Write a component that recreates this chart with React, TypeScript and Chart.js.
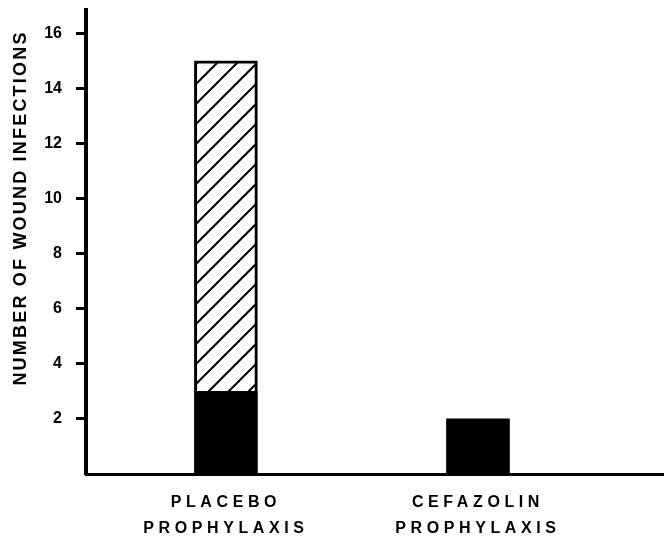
import React, { useEffect, useRef } from "react";
import { Chart, registerables } from "chart.js";

Chart.register(...registerables);

const categories: string[][] = [
  ["PLACEBO", "PROPHYLAXIS"],
  ["CEFAZOLIN", "PROPHYLAXIS"],
];
const blackValues: (number | null)[] = [3, 2];
const hatchedValues: (number | null)[] = [12, null];
const yTickValues: number[] = [2, 4, 6, 8, 10, 12, 14, 16];
const yTitle = "NUMBER OF WOUND INFECTIONS";
const yMax = 16.85;
const xMin = 0.445;
const xMax = 2.738;

const FONT = '"Liberation Sans", Arial, sans-serif';

function makeHatch(): CanvasPattern | string {
  const s = 20;
  const c = document.createElement("canvas");
  c.width = s;
  c.height = s;
  const g = c.getContext("2d");
  if (!g) return "#fff";
  g.fillStyle = "#fff";
  g.fillRect(0, 0, s, s);
  g.strokeStyle = "#000";
  g.lineWidth = 2;
  g.lineCap = "square";
  g.beginPath();
  g.moveTo(0, s);
  g.lineTo(s, 0);
  g.moveTo(-2, 2);
  g.lineTo(2, -2);
  g.moveTo(s - 2, s + 2);
  g.lineTo(s + 2, s - 2);
  g.stroke();
  const p = g.createPattern(c, "repeat");
  return p || "#fff";
}

const spacingPlugin = {
  id: "spacingPlugin",
  beforeDraw(chart: any) {
    chart.ctx.letterSpacing = "0px";
  },
  afterDatasetsDraw(chart: any) {
    chart.ctx.letterSpacing = "4.6px";
  },
  afterDraw(chart: any) {
    const ctx = chart.ctx;
    ctx.save();
    ctx.letterSpacing = "2.2px";
    ctx.font = `bold 18px ${FONT}`;
    ctx.fillStyle = "#000";
    ctx.translate(21, 208);
    ctx.rotate(-Math.PI / 2);
    ctx.textAlign = "center";
    ctx.textBaseline = "middle";
    ctx.fillText(yTitle, 0, 0);
    ctx.restore();
    ctx.letterSpacing = "0px";
  },
};

export default function App() {
  const ref = useRef<HTMLCanvasElement>(null);

  useEffect(() => {
    if (!ref.current) return;
    const hatch = makeHatch();
    const toPoints = (arr: (number | null)[]) =>
      arr
        .map((v, i) => ({ x: i + 1, y: v }))
        .filter((p) => p.y !== null) as { x: number; y: number }[];

    const chart = new Chart(ref.current, {
      type: "bar",
      data: {
        datasets: [
          {
            label: "black",
            data: toPoints(blackValues),
            backgroundColor: "#000",
            borderWidth: 0,
            barThickness: 63,
          },
          {
            label: "hatched",
            data: toPoints(hatchedValues),
            backgroundColor: hatch as any,
            borderColor: "#000",
            borderWidth: 3,
            borderSkipped: "bottom",
            barThickness: 63,
          },
        ],
      },
      plugins: [spacingPlugin],
      options: {
        animation: false,
        responsive: false,
        layout: { padding: { top: 10, left: 0, right: 0, bottom: 0 } },
        plugins: {
          legend: { display: false },
          tooltip: { enabled: false },
          title: { display: false },
        },
        scales: {
          x: {
            type: "linear",
            offset: false,
            stacked: true,
            min: xMin,
            max: xMax,
            grid: { display: false, drawTicks: false, offset: false },
            border: { display: true, color: "#000", width: 3 },
            afterBuildTicks: (axis: any) => {
              axis.ticks = categories.map((_, i) => ({ value: i + 1 }));
            },
            afterFit: (scale: any) => {
              scale.height = 64;
              scale.paddingLeft = 0;
              scale.paddingRight = 0;
            },
            ticks: {
              z: 1,
              autoSkip: false,
              maxRotation: 0,
              minRotation: 0,
              padding: 16,
              color: "#000",
              font: { family: FONT, size: 16, weight: "bold", lineHeight: 1.625 },
              callback: (v: any) => categories[Math.round(Number(v)) - 1] ?? "",
            },
          },
          y: {
            type: "linear",
            stacked: true,
            min: 0,
            max: yMax,
            grid: {
              drawOnChartArea: false,
              drawTicks: true,
              tickLength: 10,
              tickWidth: 3,
              tickColor: "#000",
              color: "#000",
            },
            border: { display: true, color: "#000", width: 4 },
            afterBuildTicks: (axis: any) => {
              axis.ticks = yTickValues.map((v) => ({ value: v }));
            },
            afterFit: (scale: any) => {
              scale.width = 86;
              scale.paddingTop = 0;
              scale.paddingBottom = 0;
            },
            ticks: {
              padding: 14,
              color: "#000",
              font: { family: FONT, size: 16, weight: "bold" },
              callback: (v: any) => String(v),
            },
          },
        },
      } as any,
    });
    return () => chart.destroy();
  }, []);

  return (
    <div style={{ position: "fixed", left: 0, top: 0, width: 664, height: 538, background: "#fff" }}>
      <canvas ref={ref} width={664} height={538} style={{ display: "block" }} />
    </div>
  );
}
